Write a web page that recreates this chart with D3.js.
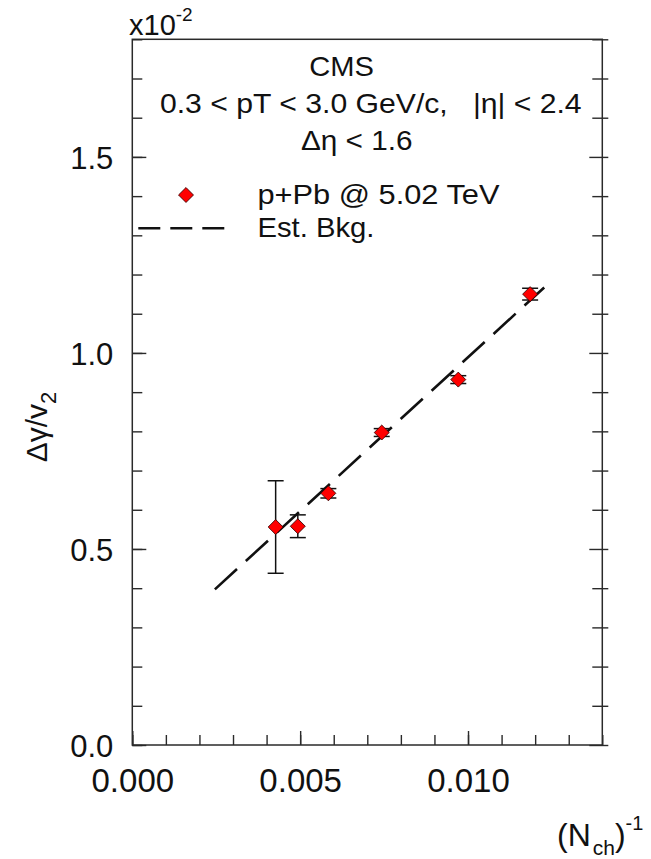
<!DOCTYPE html>
<html>
<head>
<meta charset="utf-8">
<script src="https://cdn.jsdelivr.net/npm/d3@7"></script>
<style>
  html, body { margin: 0; padding: 0; background: #fff; }
  svg { display: block; font-family: "Liberation Sans", Arial, sans-serif; }
  text { white-space: pre; fill: #111; }
</style>
</head>
<body>
<svg id="chart" width="651" height="859"></svg>
<script>
// p+Pb @ 5.02 TeV: Δγ/v2 (in units of 1e-2) versus 1/Nch
const invNch      = [0.00427, 0.00493, 0.00584, 0.00743, 0.00971, 0.01185];
const dGammaV2    = [0.556, 0.558, 0.642, 0.797, 0.932, 1.150];
const dGammaV2Err = [0.118, 0.029, 0.012, 0.010, 0.010, 0.015];

// Estimated background line (two end points)
const bkgX = [0.00246, 0.01227];
const bkgY = [0.397, 1.167];

// Axis ticks
const xMajorTicks = [0.000, 0.005, 0.010];
const xTickLabels = ["0.000", "0.005", "0.010"];
const yMajorTicks = [0.0, 0.5, 1.0, 1.5];
const yTickLabels = ["0.0", "0.5", "1.0", "1.5"];
const xDomain = [0, 0.014];
const yDomain = [0, 1.8];

const legendLabels = ["p+Pb @ 5.02 TeV", "Est. Bkg."];
const infoLines = ["CMS", "0.3 < pT < 3.0 GeV/c,   |η| < 2.4", "Δη < 1.6"];

const svg = d3.select("#chart");
const plotLeft = 132.3, plotRight = 602.3, plotTop = 39.3, plotBottom = 745;
const ink = "#111", frameInk = "#2a2a2a";

const x = d3.scaleLinear().domain(xDomain).range([plotLeft, plotRight]);
const y = d3.scaleLinear().domain(yDomain).range([plotBottom, plotTop]);

const xMinor = d3.range(0, 15).map(i => +(i * 0.001).toFixed(3));
const yMinor = d3.range(0, 19).map(i => +(i * 0.1).toFixed(1));

function styleAxis(g) {
  g.select(".domain").remove();
  g.selectAll(".tick line").attr("stroke", frameInk).attr("stroke-width", 1.4);
}

// Left axis: inward ticks, minor then major with labels
svg.append("g").attr("transform", `translate(${plotLeft},0)`)
  .call(d3.axisLeft(y).tickValues(yMinor).tickSize(-10).tickFormat(""))
  .call(styleAxis);
const yAxisG = svg.append("g").attr("transform", `translate(${plotLeft},0)`)
  .call(d3.axisLeft(y).tickValues(yMajorTicks).tickSize(-14).tickPadding(19)
        .tickFormat((d, i) => yTickLabels[i]))
  .call(styleAxis);
yAxisG.selectAll(".tick text")
  .attr("font-size", 31).attr("fill", ink).attr("dy", "0.36em")
  .attr("font-family", "Liberation Sans, Arial, sans-serif");

// Right axis: ticks crossing the frame
svg.append("g").attr("transform", `translate(${plotRight},0)`)
  .call(d3.axisRight(y).tickValues(yMinor).tickSize(6).tickFormat(""))
  .call(styleAxis)
  .selectAll(".tick line")
  .attr("x1", d => yMajorTicks.includes(d) ? -13 : -10).attr("x2", 6);

// Bottom axis: inward ticks
svg.append("g").attr("transform", `translate(0,${plotBottom})`)
  .call(d3.axisBottom(x).tickValues(xMinor).tickSize(-10).tickFormat(""))
  .call(styleAxis);
const xAxisG = svg.append("g").attr("transform", `translate(0,${plotBottom})`)
  .call(d3.axisBottom(x).tickValues(xMajorTicks).tickSize(-14)
        .tickFormat((d, i) => xTickLabels[i]))
  .call(styleAxis);
xAxisG.selectAll(".tick text")
  .attr("font-size", 33).attr("fill", ink).attr("y", 47.3).attr("dy", null)
  .attr("font-family", "Liberation Sans, Arial, sans-serif");

// Frame
svg.append("rect")
  .attr("x", plotLeft).attr("y", plotTop)
  .attr("width", plotRight - plotLeft).attr("height", plotBottom - plotTop)
  .attr("fill", "none").attr("stroke", frameInk).attr("stroke-width", 1.5);

// Axis exponent
const expo = svg.append("text").attr("x", 129).attr("y", 35).attr("font-size", 29);
expo.append("tspan").text("x10");
expo.append("tspan").attr("font-size", 19).attr("dy", -14).text("-2");

// Axis titles
const xt = svg.append("text").attr("x", 557).attr("y", 846).attr("font-size", 32);
xt.append("tspan").text("(N");
xt.append("tspan").attr("font-size", 21).attr("dy", 9).attr("dx", 2).text("ch");
xt.append("tspan").attr("dy", -9).text(")");
xt.append("tspan").attr("font-size", 20).attr("dy", -16).text("-1");

const yt = svg.append("text").attr("transform", "translate(47,427) rotate(-90)")
  .attr("text-anchor", "middle").attr("font-size", 30);
yt.append("tspan").text("Δγ/v");
yt.append("tspan").attr("font-size", 22).attr("dy", 9).text("2");

// Info text (slightly wide lettering)
const infoX = [341.7, 370.8, 356.8];
const infoY = [75.7, 113.3, 150];
const infoW = [64.7, 421.7, 111.7];
infoLines.forEach((t, i) => {
  svg.append("text").attr("x", infoX[i]).attr("y", infoY[i])
    .attr("text-anchor", "middle").attr("font-size", 28.5)
    .attr("textLength", infoW[i]).attr("lengthAdjust", "spacingAndGlyphs")
    .text(t);
});

// Background estimate (dashed)
const line = d3.line().x(d => x(d[0])).y(d => y(d[1]));
svg.append("path")
  .datum(bkgX.map((v, i) => [v, bkgY[i]]))
  .attr("d", line)
  .attr("fill", "none").attr("stroke", ink)
  .attr("stroke-width", 2.6).attr("stroke-dasharray", "30,12");

// Error bars
const pts = invNch.map((v, i) => ({ x: v, y: dGammaV2[i], e: dGammaV2Err[i] }));
const eb = svg.append("g").attr("stroke", ink).attr("stroke-width", 1.5).attr("fill", "none");
eb.selectAll("line.v").data(pts).join("line").attr("class", "v")
  .attr("x1", d => x(d.x)).attr("x2", d => x(d.x))
  .attr("y1", d => y(d.y - d.e)).attr("y2", d => y(d.y + d.e));
eb.selectAll("line.lo").data(pts).join("line").attr("class", "lo")
  .attr("x1", d => x(d.x) - 8).attr("x2", d => x(d.x) + 8)
  .attr("y1", d => y(d.y - d.e)).attr("y2", d => y(d.y - d.e));
eb.selectAll("line.hi").data(pts).join("line").attr("class", "hi")
  .attr("x1", d => x(d.x) - 8).attr("x2", d => x(d.x) + 8)
  .attr("y1", d => y(d.y + d.e)).attr("y2", d => y(d.y + d.e));

// Diamond markers
const diamond = d3.symbol(d3.symbolSquare, 112);
svg.append("g").selectAll("path").data(pts).join("path")
  .attr("d", diamond)
  .attr("transform", d => `translate(${x(d.x)},${y(d.y)}) rotate(45)`)
  .attr("fill", "#ff0000").attr("stroke", "#300").attr("stroke-width", 0.8);

// Legend
const lg = svg.append("g");
lg.append("path").attr("d", diamond)
  .attr("transform", "translate(186,195) rotate(45)")
  .attr("fill", "#ff0000").attr("stroke", "#300").attr("stroke-width", 0.8);
lg.append("line").attr("x1", 138.3).attr("x2", 224.3).attr("y1", 228.3).attr("y2", 228.3)
  .attr("stroke", ink).attr("stroke-width", 2.6).attr("stroke-dasharray", "22,10");
const legendW = [242, 117];
lg.selectAll("text").data(legendLabels).join("text")
  .attr("x", 257.5).attr("y", (d, i) => [204.3, 236.7][i])
  .attr("font-size", 28.5)
  .attr("textLength", (d, i) => legendW[i]).attr("lengthAdjust", "spacingAndGlyphs")
  .text(d => d);
</script>
</body>
</html>
